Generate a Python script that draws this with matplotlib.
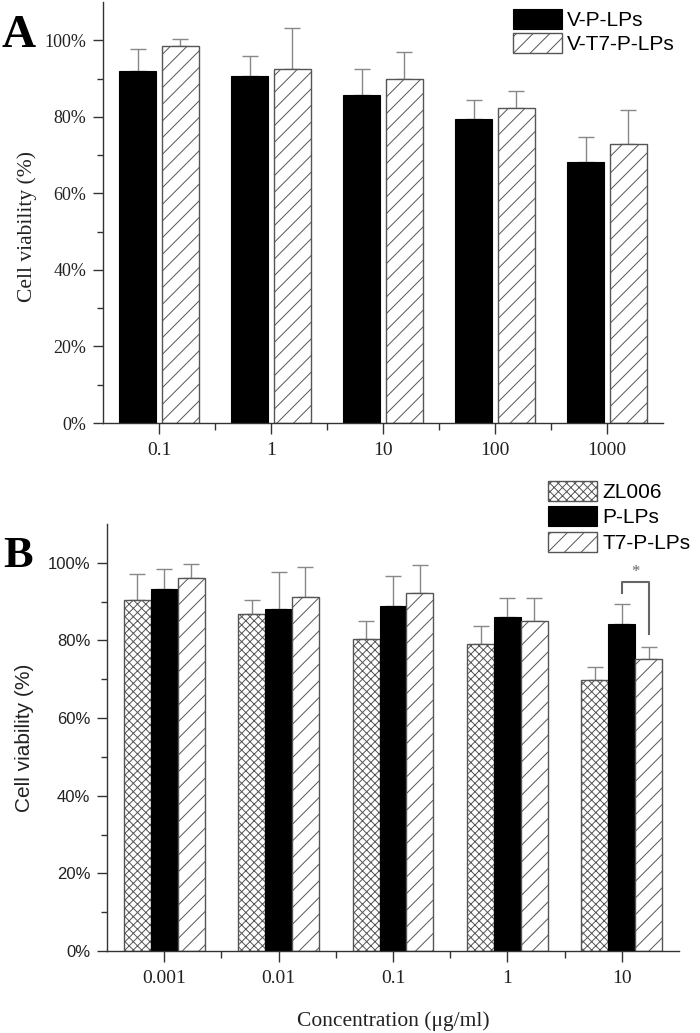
import numpy as np
import matplotlib
matplotlib.use('Agg')
import matplotlib.pyplot as plt
from matplotlib.ticker import FixedLocator, FuncFormatter

plt.rcParams['hatch.linewidth'] = 0.7
plt.rcParams['hatch.color'] = '#555555'

SERIF = 'Liberation Serif'
SANS = 'Liberation Sans'
AX_C = '#333333'

# panel A data
conc_a = ['0.1', '1', '10', '100', '1000']
vp_mean = [92.0, 90.7, 85.8, 79.3, 68.2]
vp_sd = [5.6, 5.1, 6.8, 5.2, 6.6]
vt7_mean = [98.4, 92.6, 89.8, 82.2, 72.8]
vt7_sd = [1.9, 10.6, 7.2, 4.6, 9.0]

# panel B data
conc_b = ['0.001', '0.01', '0.1', '1', '10']
zl_mean = [90.5, 86.8, 80.5, 79.1, 69.9]
zl_sd = [6.7, 3.5, 4.4, 4.7, 3.2]
p_mean = [93.3, 88.1, 88.9, 86.1, 84.3]
p_sd = [5.2, 9.6, 7.8, 4.8, 5.1]
t7_mean = [96.1, 91.1, 92.1, 85.0, 75.3]
t7_sd = [3.6, 7.9, 7.4, 5.9, 3.1]

# significance bracket (P-LPs vs T7-P-LPs at 10 ug/ml)
sig_top = 95.1
sig_left_end = 92.3
sig_right_end = 81.7

W, H = 700, 1033
fig = plt.figure(figsize=(W / 100, H / 100), dpi=100)

axA = fig.add_axes([103 / W, 1 - 423 / H, 560 / W, 421 / H])
axB = fig.add_axes([107 / W, 1 - 951 / H, 572 / W, 427 / H])


def style_axes(ax, tick_labels, yfont, ysize):
    n = len(tick_labels)
    ax.set_xlim(-0.5, n - 0.5)
    ax.set_ylim(0, 110)
    for s in ['top', 'right']:
        ax.spines[s].set_visible(False)
    for s in ['left', 'bottom']:
        ax.spines[s].set_color(AX_C)
        ax.spines[s].set_linewidth(1.0)
    ax.set_xticks(np.arange(n))
    ax.set_xticklabels(tick_labels, family=SERIF, fontsize=14)
    ax.xaxis.set_minor_locator(FixedLocator(np.arange(n - 1) + 0.5))
    ax.yaxis.set_major_locator(FixedLocator([0, 20, 40, 60, 80, 100]))
    ax.yaxis.set_minor_locator(FixedLocator([10, 30, 50, 70, 90]))
    ax.yaxis.set_major_formatter(FuncFormatter(lambda v, p: f'{v:.0f}%'))
    for lab in ax.get_yticklabels():
        lab.set_family(yfont)
        lab.set_fontsize(ysize)
    ax.tick_params(axis='x', which='major', direction='out', length=8, width=1, color=AX_C,
                   labelcolor='#222222', pad=6)
    ax.tick_params(axis='x', which='minor', direction='out', length=5, width=1, color=AX_C)
    ax.tick_params(axis='y', which='major', direction='out', length=7, width=1, color=AX_C,
                   labelcolor='#222222', pad=5)
    ax.tick_params(axis='y', which='minor', direction='out', length=4.5, width=1, color=AX_C)


err_kw = dict(fmt='none', ecolor='#888888', elinewidth=1, capsize=5.5, capthick=1, zorder=1)

# ---- panel A
x = np.arange(len(conc_a))
wa, offa = 0.33, 0.19
ba1 = axA.bar(x - offa, vp_mean, wa, color='black', edgecolor='black', lw=0.8, zorder=2,
              label='V-P-LPs')
ba2 = axA.bar(x + offa, vt7_mean, wa, color='white', edgecolor='#555555', lw=1.0,
              hatch='//', zorder=2, label='V-T7-P-LPs')
axA.errorbar(x - offa, vp_mean, yerr=[np.zeros(len(x)), vp_sd], **err_kw)
axA.errorbar(x + offa, vt7_mean, yerr=[np.zeros(len(x)), vt7_sd], **err_kw)
style_axes(axA, conc_a, SERIF, 13)

# ---- panel B
x = np.arange(len(conc_b))
wb = 0.235
bb1 = axB.bar(x - wb, zl_mean, wb, color='white', edgecolor='#555555', lw=1.0,
              hatch='xxxx', zorder=2, label='ZL006')
bb2 = axB.bar(x, p_mean, wb, color='black', edgecolor='black', lw=0.8, zorder=2, label='P-LPs')
bb3 = axB.bar(x + wb, t7_mean, wb, color='white', edgecolor='#555555', lw=1.0,
              hatch='//', zorder=2, label='T7-P-LPs')
axB.errorbar(x - wb, zl_mean, yerr=[np.zeros(len(x)), zl_sd], **err_kw)
axB.errorbar(x, p_mean, yerr=[np.zeros(len(x)), p_sd], **err_kw)
axB.errorbar(x + wb, t7_mean, yerr=[np.zeros(len(x)), t7_sd], **err_kw)
style_axes(axB, conc_b, SANS, 12)

# significance bracket
xl, xr = x[-1], x[-1] + wb
axB.plot([xl, xl, xr, xr], [sig_left_end, sig_top, sig_top, sig_right_end],
         color='#666666', lw=1.5, zorder=3)
axB.text((xl + xr) / 2, sig_top + 0.6, '*', ha='center', va='bottom', fontsize=12,
         color='#666666', family=SERIF)

# legends
leg_kw = dict(loc='upper left', frameon=False, borderpad=0, borderaxespad=0,
              handlelength=2.35, handleheight=1.1, handletextpad=0.25,
              prop={'family': SANS, 'size': 15})
fig.legend(handles=[ba1, ba2], bbox_transform=fig.transFigure,
           bbox_to_anchor=(513 / W, 1 - 9 / H), labelspacing=0.15, **leg_kw)
fig.legend(handles=[bb1, bb2, bb3], bbox_transform=fig.transFigure,
           bbox_to_anchor=(548 / W, 1 - 481 / H), labelspacing=0.2, **leg_kw)

# axis labels
fig.text(27 / W, 1 - 227 / H, 'Cell viability (%)', rotation=90, ha='center', va='center',
         family=SERIF, fontsize=15.5, color='#222222')
fig.text(25 / W, 1 - 738 / H, 'Cell viability (%)', rotation=90, ha='center', va='center',
         family=SANS, fontsize=15, color='#222222')
fig.text(393 / W, 1 - 1021 / H, 'Concentration (μg/ml)', ha='center', va='center',
         family=SERIF, fontsize=15.5, color='#222222')

# panel letters
fig.text(2 / W, 1 - 47 / H, 'A', ha='left', va='baseline', family=SERIF,
         fontweight='bold', fontsize=34)
fig.text(3 / W, 1 - 567 / H, 'B', ha='left', va='baseline', family=SERIF,
         fontweight='bold', fontsize=32)

fig.savefig('out.png', dpi=100)
